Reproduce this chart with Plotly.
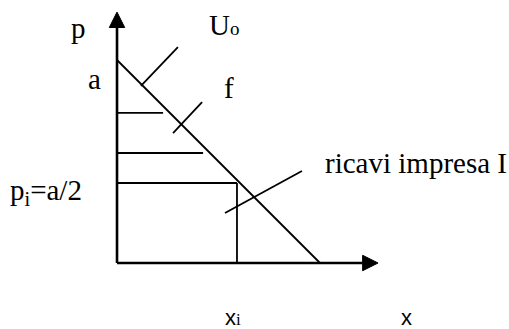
import plotly.graph_objects as go

# Diagram values (in diagram units: price p on vertical, quantity x on horizontal)
a_intercept = 10.0          # demand price intercept "a"
x_intercept = 10.0          # demand quantity intercept
axis_p_tip = 12.36          # top of p axis arrow
axis_x_tip = 12.86          # right end of x axis arrow
arrow_p_base = 11.6
arrow_x_base = 12.1
arrow_half = 0.38

# horizontal level lines under the demand curve (price level, length)
level_p = [7.4, 5.42, 3.94]
level_len = [2.27, 4.24, 5.91]

# firm I revenue rectangle
p_i = 3.94
x_i = 5.91

# pointer segments: (x0, p0, x1, p1)
pointer_names = ["Uo", "f", "ricavi"]
pointer_x0 = [1.18, 2.76, 5.32]
pointer_p0 = [8.72, 6.40, 2.46]
pointer_x1 = [3.00, 4.19, 9.11]
pointer_p1 = [10.64, 7.93, 4.53]

# labels
serif_labels = ["p", "U<span style='font-size:19px'>o</span>", "a", "f", "p<sub>i</sub>=a/2"]
serif_label_x = [-1.92, 5.27, -1.13, 5.52, -3.5]
serif_label_p = [11.58, 11.72, 9.06, 8.62, 3.5]
ricavi_label = "ricavi impresa I"
ricavi_x, ricavi_p = 10.15, 4.93
sans_labels = ["x<span style='font-family:Liberation Serif;font-size:17px'>i</span>", "x"]
sans_label_x = [5.71, 14.24]
sans_label_p = [-2.68, -2.68]

X_RANGE = [-5.764, 19.31]
P_RANGE = [-3.251, 12.956]

fig = go.Figure()
black = "black"

def seg(xs, ys, w):
    fig.add_trace(go.Scatter(x=xs, y=ys, mode="lines",
                             line=dict(color=black, width=w),
                             hoverinfo="skip", showlegend=False))

# axes
seg([0, 0], [0, arrow_p_base], 2.6)
seg([0, arrow_x_base], [0, 0], 2.6)
# arrow heads
fig.add_trace(go.Scatter(x=[-arrow_half, arrow_half, 0, -arrow_half],
                         y=[arrow_p_base, arrow_p_base, axis_p_tip, arrow_p_base],
                         mode="lines", fill="toself", fillcolor=black,
                         line=dict(color=black, width=1), hoverinfo="skip", showlegend=False))
fig.add_trace(go.Scatter(x=[arrow_x_base, arrow_x_base, axis_x_tip, arrow_x_base],
                         y=[-arrow_half, arrow_half, 0, -arrow_half],
                         mode="lines", fill="toself", fillcolor=black,
                         line=dict(color=black, width=1), hoverinfo="skip", showlegend=False))
# demand line
seg([0, x_intercept], [a_intercept, 0], 1.8)
# level lines
for pv, ln in zip(level_p, level_len):
    seg([0, ln], [pv, pv], 1.8)
# rectangle right side
seg([x_i, x_i], [p_i, 0], 1.8)
# pointers
for x0, p0, x1, p1 in zip(pointer_x0, pointer_p0, pointer_x1, pointer_p1):
    seg([x0, x1], [p0, p1], 1.8)

serif = dict(family="Liberation Serif, Times New Roman, serif", size=29, color=black)
sans = dict(family="Liberation Sans, Arial, sans-serif", size=22, color=black)

for t, xv, pv in zip(serif_labels, serif_label_x, serif_label_p):
    fig.add_annotation(x=xv, y=pv, text=t, showarrow=False, font=serif,
                       xanchor="center", yanchor="middle")
fig.add_annotation(x=ricavi_x, y=ricavi_p, text=ricavi_label, showarrow=False,
                   font=serif, xanchor="left", yanchor="middle")
for t, xv, pv in zip(sans_labels, sans_label_x, sans_label_p):
    fig.add_annotation(x=xv, y=pv, text=t, showarrow=False, font=sans,
                       xanchor="center", yanchor="middle")

fig.update_xaxes(range=X_RANGE, visible=False, fixedrange=True)
fig.update_yaxes(range=P_RANGE, visible=False, fixedrange=True)
fig.update_layout(width=509, height=329, margin=dict(l=0, r=0, t=0, b=0),
                  paper_bgcolor="white", plot_bgcolor="white", showlegend=False)

fig.write_html("out.html", config={"displayModeBar": False},
               post_script="document.body.style.margin='0';document.body.style.overflow='hidden';")
